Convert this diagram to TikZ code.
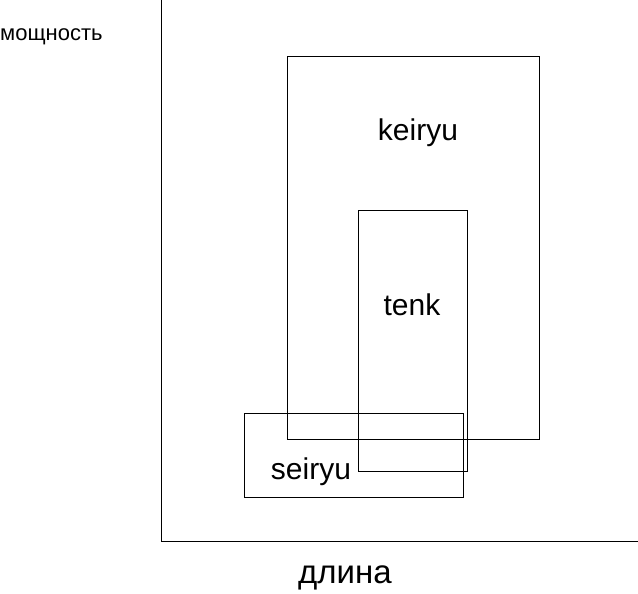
\documentclass[tikz,border=0pt]{standalone}
\usepackage{fontspec}
\setmainfont{Liberation Sans}
\begin{document}
\begin{tikzpicture}[x=1pt,y=-1pt,box/.style={draw,line width=1pt},lbl/.style={font=\fontsize{30}{34}\selectfont,inner sep=0}]
\useasboundingbox (0,0) rectangle (638,594);
\coordinate (top) at (161,0);
\coordinate (origin) at (161,541);
\coordinate (right) at (638,541);
\draw[line width=1pt] (top) -- (origin) -- (right);
\node[box,minimum width=252,minimum height=383,anchor=north west,inner sep=0] (keiryu) at (287,56) {};
\node[box,minimum width=109,minimum height=261,anchor=north west,inner sep=0] (tenk) at (358,210) {};
\node[box,minimum width=219,minimum height=84,anchor=north west,inner sep=0] (seiryu) at (244,413) {};
\node[lbl] (lk) at (418,133) {keiryu};
\node[lbl] (lt) at (412,305) {tenk};
\node[lbl] (ls) at (311,472) {seiryu};
\node[font=\fontsize{22}{26}\selectfont,inner sep=0,anchor=west] (ly) at (0,37) {мощность};
\node[font=\fontsize{33}{38}\selectfont,inner sep=0] (lx) at (345,578) {длина};
\end{tikzpicture}
\end{document}
